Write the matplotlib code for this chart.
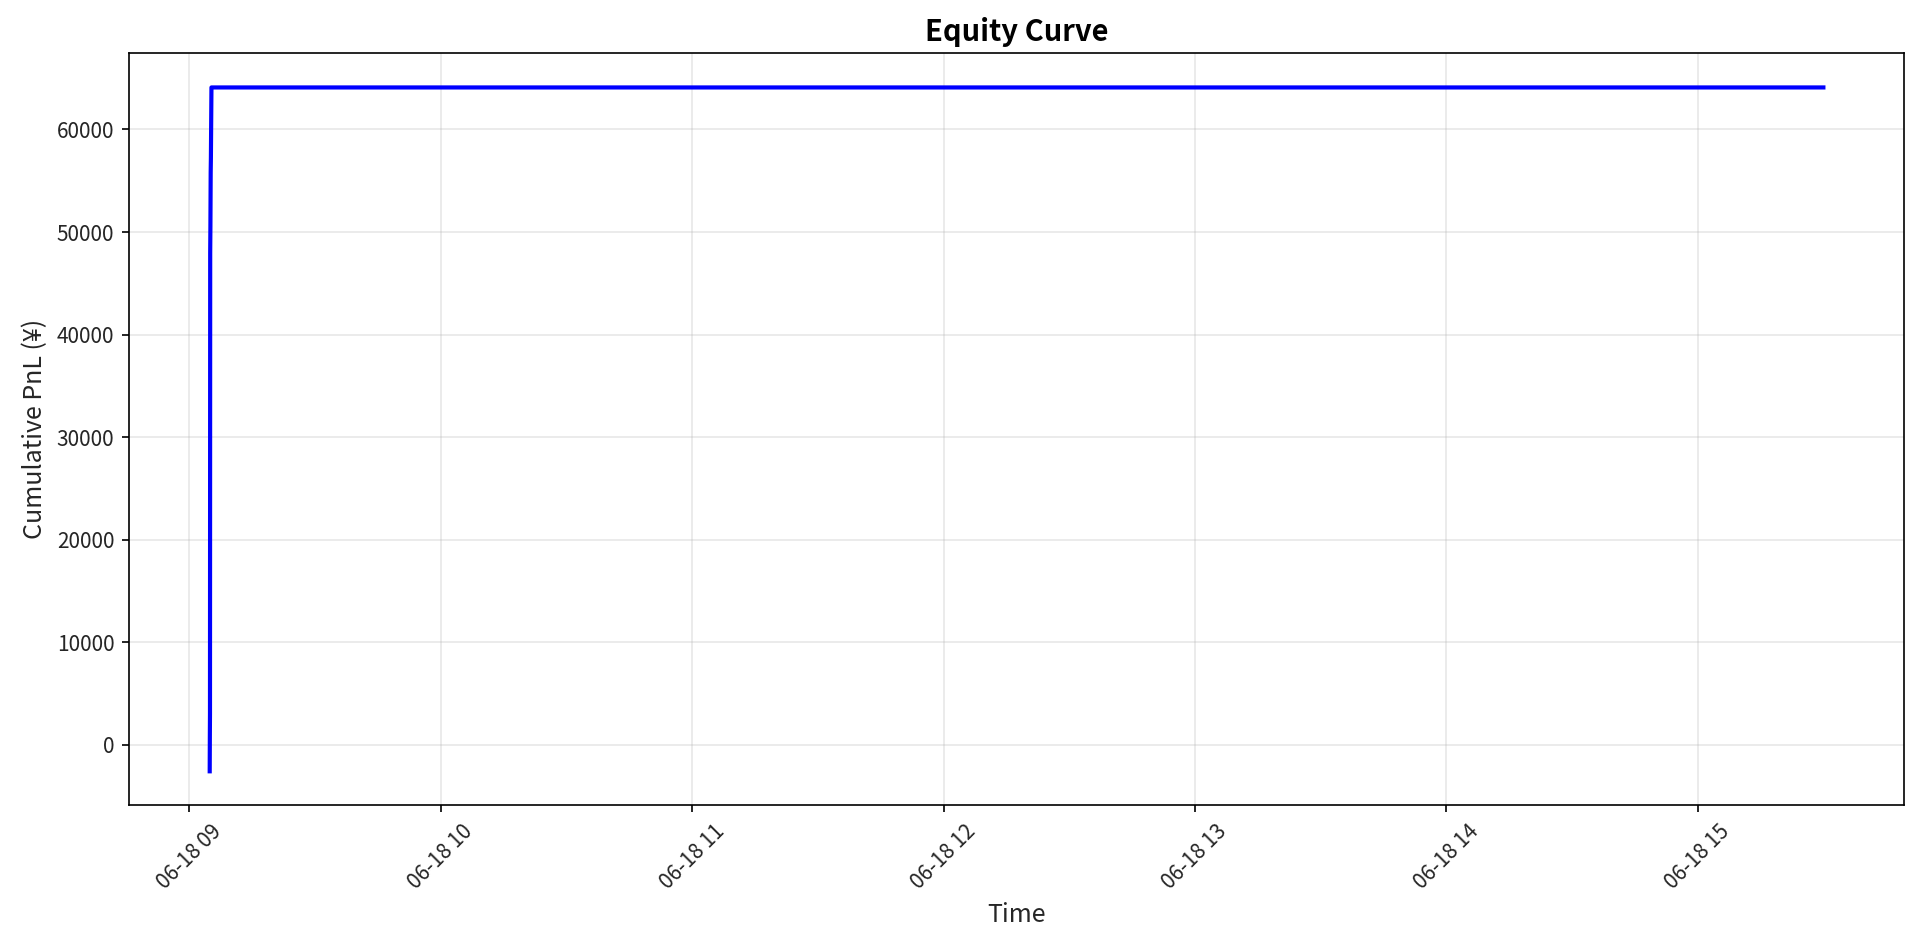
import matplotlib
matplotlib.use("Agg")
import matplotlib.pyplot as plt
import matplotlib.dates as mdates
import pandas as pd

plt.rcParams['font.family'] = ['Noto Sans CJK JP', 'DejaVu Sans']

# trade times and cumulative pnl
times = ["2024-06-18 09:04:50", "2024-06-18 09:04:52", "2024-06-18 09:04:54",
         "2024-06-18 09:04:57", "2024-06-18 09:05:00", "2024-06-18 09:05:04",
         "2024-06-18 09:05:07", "2024-06-18 09:05:15", "2024-06-18 15:30:00"]
pnl = [-2600, 800, 3000, 48000, 50500, 55800, 57200, 64100, 64100]

t = pd.to_datetime(times)

fig = plt.figure(figsize=(12.8, 6.34), dpi=150)
ax = fig.add_subplot(111)
fig.subplots_adjust(left=0.0672, right=0.9917, top=0.944, bottom=0.153)

ax.plot(t, pnl, color='blue', linewidth=2)
ax.set_title("Equity Curve", fontsize=14, fontweight='bold')
ax.set_xlabel("Time", fontsize=12, color='#262626')
ax.set_ylabel("Cumulative PnL (¥)", fontsize=12, color='#262626')
ax.tick_params(labelcolor='#262626')
ax.grid(True, alpha=0.3)
ax.xaxis.set_major_locator(mdates.HourLocator())
ax.xaxis.set_major_formatter(mdates.DateFormatter("%m-%d %H"))
plt.setp(ax.get_xticklabels(), rotation=45)

fig.savefig("out.png", dpi=150)
